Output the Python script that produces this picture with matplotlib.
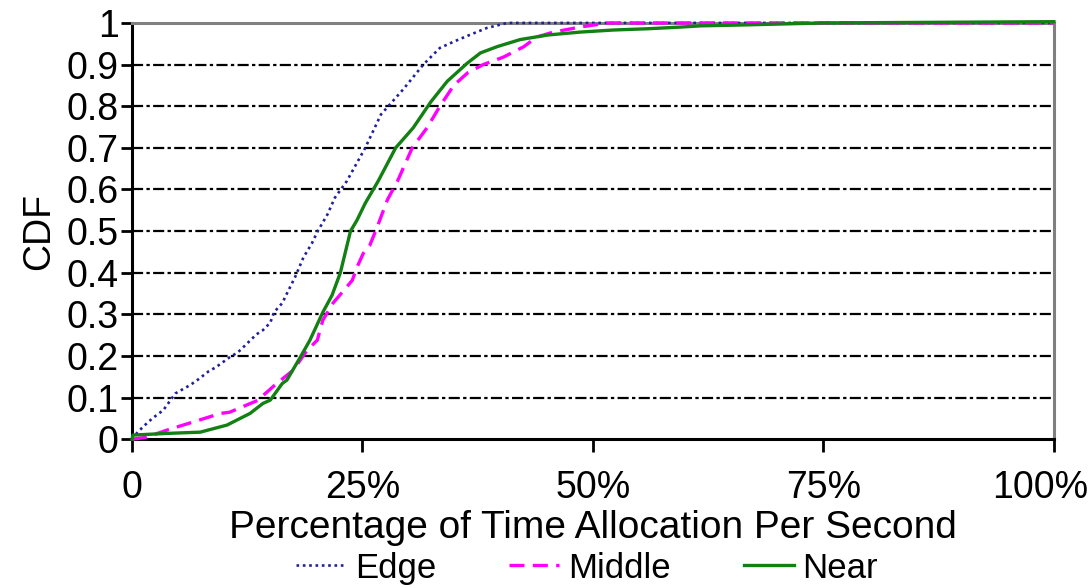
import matplotlib
matplotlib.use("Agg")
import matplotlib.pyplot as plt
import matplotlib.transforms as mtransforms
from matplotlib.ticker import FixedLocator

plt.rcParams['font.family'] = ['Liberation Sans', 'DejaVu Sans']

# ---- data (percent of time allocation, CDF) ----
edge_x = [0, 0.5, 1.2, 2.2, 3.4, 4.7, 6.3, 7.2, 8.3, 9.1, 10.6, 11.5, 12.3, 13.5, 14.2, 15.0,
          15.4, 16.3, 16.8, 17.7, 18.6, 19.5, 20.1, 21.2, 22.0, 23.3, 25.3, 27.0, 28.6, 29.4,
          30.5, 31.6, 33.4, 34.9, 36.5, 38.5, 40.7, 100]
edge_y = [0, 0.014, 0.03, 0.05, 0.07, 0.11, 0.13, 0.144, 0.163, 0.173, 0.197, 0.209, 0.226,
          0.252, 0.262, 0.28, 0.305, 0.327, 0.35, 0.39, 0.437, 0.47, 0.498, 0.54, 0.58, 0.62,
          0.70, 0.78, 0.82, 0.84, 0.87, 0.90, 0.94, 0.955, 0.97, 0.988, 1.0, 1.0]

middle_x = [0, 1.6, 3.8, 7.0, 9.6, 10.6, 13.6, 15.7, 17.5, 19.0, 20.1, 20.7, 21.8, 23.0, 23.9,
            24.4, 25.1, 25.8, 26.6, 27.7, 28.8, 30.4, 32.0, 33.4, 34.9, 36.4, 38.1, 40.3,
            42.5, 43.9, 45.7, 48.6, 51.6, 100]
middle_y = [0, 0.005, 0.022, 0.044, 0.062, 0.065, 0.093, 0.134, 0.166, 0.214, 0.238, 0.286,
            0.327, 0.358, 0.382, 0.413, 0.447, 0.466, 0.51, 0.575, 0.62, 0.70, 0.748, 0.80,
            0.85, 0.88, 0.90, 0.918, 0.943, 0.966, 0.978, 0.99, 1.0, 1.0]

near_x = [0, 0.1, 3.8, 7.4, 10.3, 12.8, 14.2, 15.0, 16.3, 16.8, 18.2, 19.3, 20.7, 21.7, 22.6,
          23.7, 24.4, 25.3, 26.7, 28.6, 30.5, 32.4, 34.2, 36.4, 37.8, 39.6, 42.1, 45.1, 48.6,
          52.2, 55.9, 59.5, 61.7, 66.0, 75.0, 100]
near_y = [0, 0.01, 0.014, 0.017, 0.034, 0.062, 0.086, 0.094, 0.134, 0.142, 0.195, 0.238, 0.305,
          0.346, 0.40, 0.50, 0.526, 0.567, 0.62, 0.70, 0.748, 0.81, 0.86, 0.904, 0.928, 0.943,
          0.96, 0.971, 0.978, 0.983, 0.986, 0.99, 0.993, 0.995, 1.0, 1.003]

x_ticks = [0, 25, 50, 75, 100]
x_tick_labels = ['0', '25%', '50%', '75%', '100%']
y_ticks = [0, 0.1, 0.2, 0.3, 0.4, 0.5, 0.6, 0.7, 0.8, 0.9, 1]
y_tick_labels = ['0', '0.1', '0.2', '0.3', '0.4', '0.5', '0.6', '0.7', '0.8', '0.9', '1']

fig = plt.figure(figsize=(10.91, 5.88), dpi=100)
ax = fig.add_axes([0.121, 0.253, 0.845, 0.708])

# grid lines (dash-dot)
for yv in y_ticks[1:-1]:
    ax.axhline(yv, color='black', lw=1.6, ls=(0, (5, 1.5, 1.5, 1.5)), zorder=1)

l1, = ax.plot(edge_x, edge_y, color='#20209a', lw=1.9, ls=(0, (1, 1.4)), zorder=3,
              clip_on=False, label='Edge')
l2, = ax.plot(middle_x, middle_y, color='#ff00ff', lw=2.4, ls=(0, (4.5, 2.5)), zorder=3,
              clip_on=False, label='Middle')
l3, = ax.plot(near_x, near_y, color='#128012', lw=2.4, ls='-', zorder=3,
              clip_on=False, label='Near')

ax.set_xlim(0, 100)
ax.set_ylim(0, 1)
ax.xaxis.set_major_locator(FixedLocator(x_ticks))
ax.set_xticklabels(x_tick_labels)
ax.yaxis.set_major_locator(FixedLocator(y_ticks))
ax.set_yticklabels(y_tick_labels)

ax.tick_params(axis='both', labelsize=27, width=2, colors='black', direction='out')
ax.tick_params(axis='x', length=9, pad=13)
ax.tick_params(axis='y', length=8, pad=1.5)

# keep the last x label inside the figure, as in the reference
last = ax.get_xticklabels()[-1]
last.set_transform(last.get_transform() +
                   mtransforms.ScaledTranslation(-14 / 100, 0, fig.dpi_scale_trans))

for s in ['left', 'bottom']:
    ax.spines[s].set_linewidth(2.2)
    ax.spines[s].set_color('black')
for s in ['top', 'right']:
    ax.spines[s].set_linewidth(2.2)
    ax.spines[s].set_color('#808080')

ax.set_xlabel('Percentage of Time Allocation Per Second', fontsize=28, labelpad=3)
ax.set_ylabel('CDF', fontsize=27, labelpad=7)

fig.legend(handles=[l1, l2, l3], loc='center', bbox_to_anchor=(0.538, 0.034), ncol=3,
           frameon=False, fontsize=25, handlelength=1.45, handletextpad=0.25,
           columnspacing=2.1, borderpad=0)

fig.savefig('out.png', dpi=100)
